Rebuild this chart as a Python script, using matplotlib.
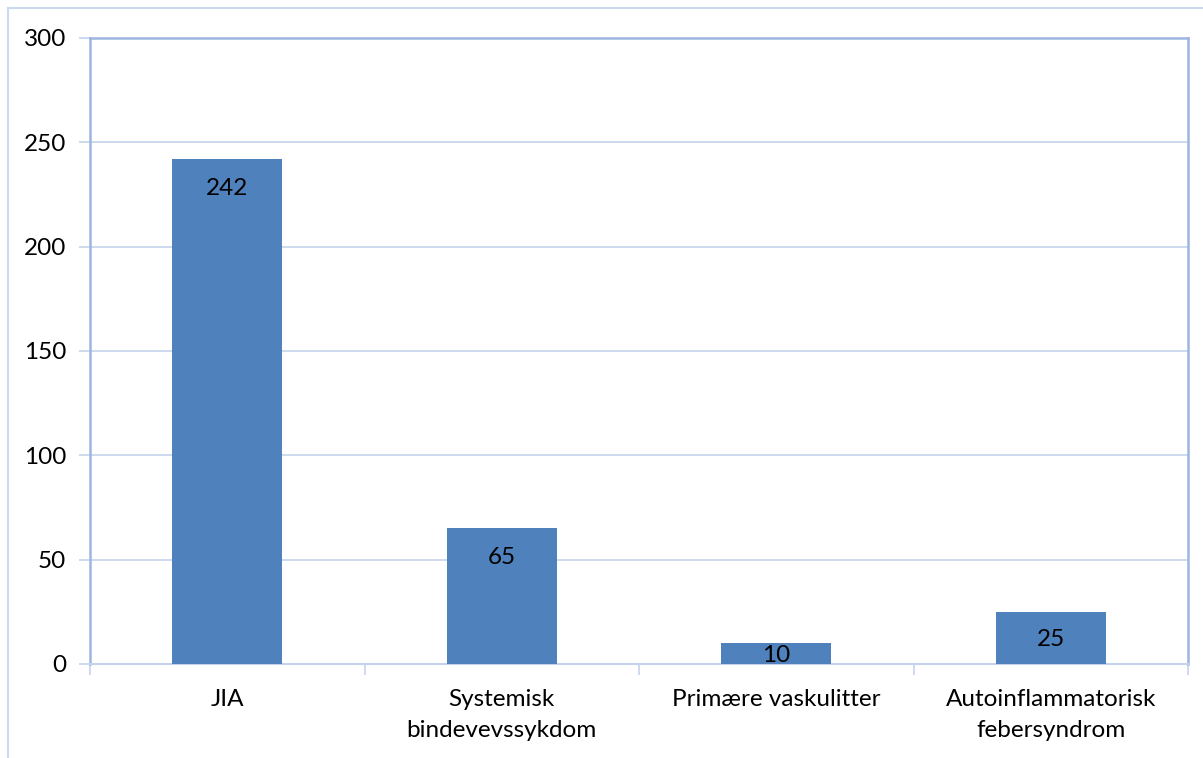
import matplotlib.pyplot as plt
from matplotlib.lines import Line2D

# Patient counts per diagnosis group
categories = ["JIA", "Systemisk\nbindevevssykdom", "Primære vaskulitter",
              "Autoinflammatorisk\nfebersyndrom"]
counts = [242, 65, 10, 25]
y_ticks = [0, 50, 100, 150, 200, 250, 300]

bar_color = "#4F81BD"
grid_color = "#C5D3EA"
frame_color = "#9DB5E0"
fs = 17.5

plt.rcParams["font.family"] = ["Lato", "DejaVu Sans"]

fig = plt.figure(figsize=(12.03, 7.58), dpi=100)
ax = fig.add_axes([90 / 1203, 1 - 664 / 758, 1098 / 1203, 626 / 758])

bars = ax.bar(range(len(categories)), counts, width=0.4, color=bar_color, zorder=3)

ax.set_xlim(-0.5, len(categories) - 0.5)
ax.set_ylim(0, 300)
ax.set_yticks(y_ticks)
ax.set_yticklabels([str(t) for t in y_ticks], fontsize=fs)
ax.yaxis.grid(True, color=grid_color, linewidth=1.2, zorder=0)

# category labels sit between boundary ticks
ax.set_xticks([i + 0.5 for i in range(-1, len(categories))])
ax.set_xticklabels([])
ax.set_xticks(range(len(categories)), minor=True)
ax.set_xticklabels(categories, minor=True, fontsize=fs, linespacing=1.6)
ax.tick_params(axis="x", which="minor", length=0, pad=18)
ax.tick_params(axis="x", which="major", length=8, color=grid_color, width=1.2)
ax.tick_params(axis="y", length=8, color=grid_color, width=1.2, pad=9)

for side in ["left", "top", "right"]:
    ax.spines[side].set_color(frame_color)
    ax.spines[side].set_linewidth(1.8)
ax.spines["bottom"].set_color(grid_color)
ax.spines["bottom"].set_linewidth(1.5)

# value labels inside the bar ends
px_per_unit = 626 / 300
for rect, v in zip(bars, counts):
    off = min(29, v * px_per_unit / 2 + 2)
    ax.annotate(str(v), xy=(rect.get_x() + rect.get_width() / 2, v),
                xytext=(0, -off), textcoords="offset pixels",
                ha="center", va="center", fontsize=fs, zorder=4)

# outer chart frame
fig.add_artist(Line2D([8 / 1203, 1], [1 - 8 / 758, 1 - 8 / 758],
                      transform=fig.transFigure, color="#CCD9EE", linewidth=1.5))
fig.add_artist(Line2D([8 / 1203, 8 / 1203], [0, 1 - 8 / 758],
                      transform=fig.transFigure, color="#CCD9EE", linewidth=1.5))

fig.savefig("out.png", dpi=100)
